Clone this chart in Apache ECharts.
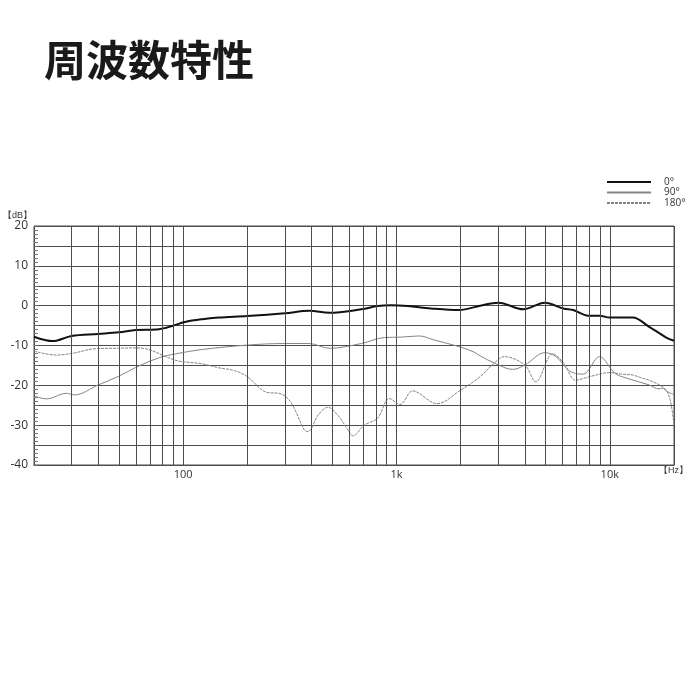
<!DOCTYPE html>
<html>
<head>
<meta charset="utf-8">
<script src="https://cdn.jsdelivr.net/npm/echarts@6/dist/echarts.min.js"></script>
<style>
html,body{margin:0;padding:0;background:#fff;}
#chart{width:700px;height:700px;}
</style>
</head>
<body>
<div id="chart"></div>
<script>
// Frequency (Hz) and level (dB)
const freq0 = [20, 24.5, 30, 40, 50, 60, 77, 89, 102, 123, 147, 200, 300, 390, 485, 685, 817, 944, 1130, 1450, 1970, 2470, 3000, 3940, 4960, 6060, 6740, 7930, 8950, 10000, 12800, 15300, 18400, 20000];
const db0   = [-7.8, -8.9, -7.6, -7.1, -6.7, -6.1, -5.9, -5.1, -4.1, -3.4, -3.0, -2.6, -1.9, -1.3, -1.8, -0.9, -0.1, 0.1, -0.1, -0.7, -1.1, 0.0, 0.75, -0.9, 0.75, -0.7, -1.1, -2.5, -2.5, -3.0, -3.0, -5.3, -8.0, -8.8];

const freq90 = [20, 23, 28.3, 31, 40, 50, 60, 77, 92, 123, 200, 300, 390, 485, 685, 877, 1050, 1280, 1500, 1970, 2300, 2470, 2900, 3500, 4000, 4960, 5600, 6400, 6900, 7500, 8950, 10600, 12000, 15300, 17000, 17600, 18600, 20000];
const db90   = [-22.7, -23.4, -22.0, -22.4, -19.9, -17.7, -15.5, -13.1, -12.1, -11.0, -9.9, -9.5, -9.5, -10.7, -9.5, -8.0, -7.9, -7.6, -8.6, -10.3, -11.6, -12.6, -14.5, -16.0, -14.9, -11.8, -12.8, -16.2, -17.0, -17.2, -12.8, -17.0, -18.2, -19.9, -20.9, -20.7, -21.6, -22.3];

const freq180 = [20, 25.3, 30, 39, 48, 60, 69, 83, 95, 110, 123, 147, 174, 200, 242, 290, 322, 370, 385, 429, 477, 531, 593, 624, 707, 817, 925, 1040, 1190, 1550, 2000, 2470, 2850, 3200, 4000, 4500, 5400, 6100, 6900, 8200, 10000, 11400, 12800, 14200, 15300, 17600, 18600, 19400, 20000];
const db180   = [-11.4, -12.4, -12.0, -10.8, -10.7, -10.6, -11.0, -12.8, -13.9, -14.3, -14.6, -15.6, -16.3, -17.8, -21.6, -22.2, -24.5, -31.2, -31.6, -27.5, -25.5, -27.5, -31.2, -32.7, -30.0, -28.2, -23.3, -24.8, -21.4, -24.6, -21.2, -17.8, -14.6, -12.8, -14.9, -19.1, -12.1, -14.5, -18.7, -17.7, -16.8, -17.2, -17.4, -18.2, -18.7, -20.3, -21.6, -24.9, -30.0];

const gridFreqs = [30, 40, 50, 60, 70, 80, 90, 200, 300, 400, 500, 600, 700, 800, 900, 2000, 3000, 4000, 5000, 6000, 7000, 8000, 9000];
const xTickLabels = {2: '100', 3: '1k', 4: '10k'};
const seriesNames = ['0°', '90°', '180°'];

const zip = (f, d) => f.map((v, i) => [v, d[i]]);
const gridCol = '#4d4d4d';

const chart = echarts.init(document.getElementById('chart'));
chart.setOption({
  animation: false,
  backgroundColor: '#fff',
  title: {
    text: '周波数特性', left: 39, top: 34,
    textStyle: {fontSize: 42, fontWeight: 'bold', color: '#1a1a1a', fontFamily: 'Noto Sans CJK JP'}
  },
  legend: {
    data: seriesNames, orient: 'vertical', left: 606, top: 177, padding: 0,
    itemWidth: 44, itemHeight: 7, itemGap: 0.5,
    itemStyle: {opacity: 0},
    textStyle: {fontSize: 10, lineHeight: 10, height: 10, width: 20, align: 'center',
      color: '#333', fontFamily: 'Open Sans', padding: [0, 0, 0, 8]}
  },
  grid: {left: 32, right: 26, top: 226, bottom: 235, show: true, borderColor: gridCol, borderWidth: 1},
  xAxis: {
    type: 'log', logBase: 10, min: 20, max: 20000,
    name: '【Hz】', nameLocation: 'end', nameGap: -15,
    nameTextStyle: {fontSize: 9, color: '#333', verticalAlign: 'top', align: 'left', padding: [1, 0, 0, 0]},
    axisLine: {show: true, onZero: false, lineStyle: {color: gridCol}},
    axisTick: {show: false},
    axisLabel: {
      margin: 4, fontSize: 11, color: '#333', fontFamily: 'Open Sans',
      formatter: v => { const e = Math.round(Math.log10(v) * 1000) / 1000; return xTickLabels[e] || ''; }
    },
    splitLine: {show: true, lineStyle: {color: gridCol, width: 1}}
  },
  yAxis: {
    type: 'value', min: -40, max: 20, interval: 5,
    name: '【dB】', nameLocation: 'end', nameGap: 6,
    nameTextStyle: {fontSize: 9, color: '#333', align: 'right', padding: [0, 2, 0, 0]},
    axisLine: {show: true, onZero: false, lineStyle: {color: gridCol}},
    axisTick: {show: true, inside: true, length: 4, lineStyle: {color: '#666'}},
    minorTick: {show: true, splitNumber: 5, length: 4, lineStyle: {color: '#777'}},
    axisLabel: {margin: 6, fontSize: 12, color: '#333', fontFamily: 'Open Sans',
      formatter: v => (v % 10 === 0 ? String(v) : '')},
    splitLine: {show: true, lineStyle: {color: gridCol, width: 1}}
  },
  series: [
    {
      name: 'grid', type: 'line', data: [], silent: true, z: 1,
      markLine: {
        silent: true, symbol: ['none', 'none'], animation: false,
        label: {show: false},
        lineStyle: {color: gridCol, width: 1, type: 'solid'},
        data: gridFreqs.map(f => ({xAxis: f}))
      }
    },
    {
      name: seriesNames[2], type: 'line', data: zip(freq180, db180), z: 3,
      showSymbol: false, symbol: 'none', smooth: 0.35,
      lineStyle: {color: '#858585', width: 1, type: [3, 1]}, itemStyle: {color: '#858585'}
    },
    {
      name: seriesNames[1], type: 'line', data: zip(freq90, db90), z: 3,
      showSymbol: false, symbol: 'none', smooth: 0.35,
      lineStyle: {color: '#858585', width: 1, type: 'solid'}, itemStyle: {color: '#858585'}
    },
    {
      name: seriesNames[0], type: 'line', data: zip(freq0, db0), z: 4,
      showSymbol: false, symbol: 'none', smooth: 0.35,
      lineStyle: {color: '#111', width: 2}, itemStyle: {color: '#111'}
    }
  ]
});
</script>
</body>
</html>
